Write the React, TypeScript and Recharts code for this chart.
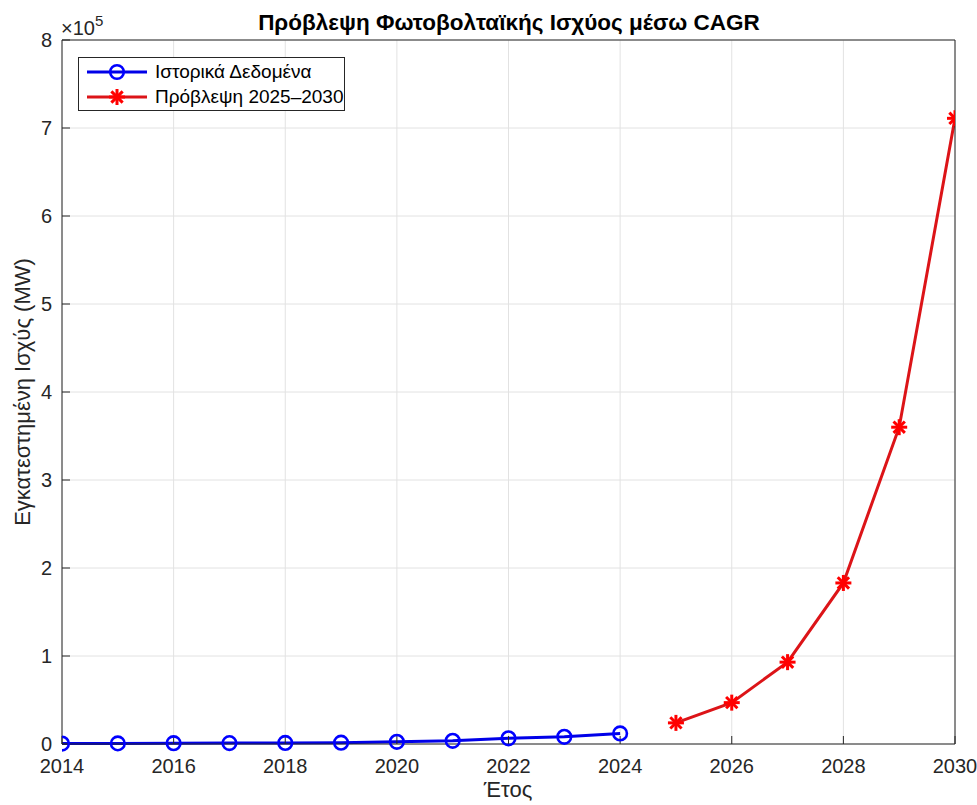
import React from 'react';
import { LineChart, Line, XAxis, YAxis, CartesianGrid, Legend } from 'recharts';

if (typeof document !== 'undefined') {
  document.body.style.margin = '0';
}

const years = [2014, 2015, 2016, 2017, 2018, 2019, 2020, 2021, 2022, 2023, 2024, 2025, 2026, 2027, 2028, 2029, 2030];
const historicalYears = [2014, 2015, 2016, 2017, 2018, 2019, 2020, 2021, 2022, 2023, 2024];
const historicalMW = [500, 700, 900, 1000, 1200, 1500, 2500, 3600, 6500, 8200, 12000];
const forecastYears = [2025, 2026, 2027, 2028, 2029, 2030];
const forecastMW = [24000, 47000, 93000, 183000, 360000, 711000];
const xTicks = [2014, 2016, 2018, 2020, 2022, 2024, 2026, 2028, 2030];
const yTicks = [0, 100000, 200000, 300000, 400000, 500000, 600000, 700000, 800000];

const titleText = 'Πρόβλεψη Φωτοβολταϊκής Ισχύος μέσω CAGR';
const xLabel = 'Έτος';
const yLabel = 'Εγκατεστημένη Ισχύς (MW)';
const histName = 'Ιστορικά Δεδομένα';
const fcName = 'Πρόβλεψη 2025–2030';

const data = years.map((year) => {
  const hi = historicalYears.indexOf(year);
  const fi = forecastYears.indexOf(year);
  return {
    year,
    hist: hi >= 0 ? historicalMW[hi] : null,
    fc: fi >= 0 ? forecastMW[fi] : null,
  };
});

const FONT = '"Liberation Sans", Arial, Helvetica, sans-serif';
const AXIS = '#262626';
const BLUE = '#0000ff';
const BLUE_LINE = '#0000e8';
const RED_LINE = '#dc1418';
const RED = '#ff0000';

const PAGE_W = 977;
const PAGE_H = 805;
const W = 969;
const H = 797;

const CircleDot = (props: any) => {
  const { cx, cy, value, index } = props;
  if (cx == null || cy == null || value == null) return <g key={`c-${index}`} />;
  return <circle key={`c-${index}`} cx={cx} cy={cy} r={6.8} fill="none" stroke={BLUE} strokeWidth={2.6} />;
};

const Asterisk = ({ cx, cy, r, stroke, sw }: any) => {
  const arms = [0, 45, 90, 135].map((a) => {
    const rad = (a * Math.PI) / 180;
    const dx = Math.cos(rad) * r;
    const dy = Math.sin(rad) * r;
    return <line key={a} x1={cx - dx} y1={cy - dy} x2={cx + dx} y2={cy + dy} stroke={stroke} strokeWidth={sw} />;
  });
  return <g>{arms}</g>;
};

const StarDot = (props: any) => {
  const { cx, cy, value, index } = props;
  if (cx == null || cy == null || value == null) return <g key={`s-${index}`} />;
  return (
    <g key={`s-${index}`}>
      <Asterisk cx={cx} cy={cy} r={8} stroke={RED} sw={3} />
    </g>
  );
};

const XTick = (props: any) => {
  const { x, y, payload } = props;
  return (
    <text x={x} y={y} dy="0.71em" textAnchor="middle" fontFamily={FONT} fontSize={20} fill={AXIS}>
      {payload.value}
    </text>
  );
};

const YTick = (props: any) => {
  const { x, y, payload } = props;
  return (
    <text x={x} y={y} dy="0.355em" textAnchor="end" fontFamily={FONT} fontSize={20} fill={AXIS}>
      {payload.value / 100000}
    </text>
  );
};

const renderLegend = () => (
  <div
    style={{
      border: `1px solid ${AXIS}`,
      background: '#fff',
      width: 265,
      height: 52,
      boxSizing: 'content-box',
      fontFamily: FONT,
      fontSize: 19,
      color: '#000',
      position: 'relative',
      whiteSpace: 'nowrap',
    }}
  >
    <div style={{ position: 'absolute', left: 7, top: 2, display: 'flex', alignItems: 'center', height: 24 }}>
      <svg width={62} height={24} style={{ display: 'block' }}>
        <line x1={1} y1={12} x2={61} y2={12} stroke={BLUE_LINE} strokeWidth={3} />
        <circle cx={31} cy={12} r={6.8} fill="none" stroke={BLUE} strokeWidth={2.6} />
      </svg>
      <span style={{ marginLeft: 7 }}>{histName}</span>
    </div>
    <div style={{ position: 'absolute', left: 7, top: 27, display: 'flex', alignItems: 'center', height: 24 }}>
      <svg width={62} height={24} style={{ display: 'block' }}>
        <line x1={1} y1={12} x2={61} y2={12} stroke={RED_LINE} strokeWidth={3} />
        <Asterisk cx={31} cy={12} r={8} stroke={RED} sw={3} />
      </svg>
      <span style={{ marginLeft: 7 }}>{fcName}</span>
    </div>
  </div>
);

export default function App() {
  return (
    <div style={{ position: 'relative', width: PAGE_W, height: PAGE_H, background: '#fff', overflow: 'hidden' }}>
      <div style={{ position: 'absolute', left: 8, top: 8, width: W, height: H }}>
        <LineChart
          width={W}
          height={H}
          data={data}
          margin={{ top: 22, right: 12, bottom: 21, left: 14 }}
          style={{ background: '#fff', overflow: 'visible' }}
        >
          <CartesianGrid stroke="#e2e2e2" strokeWidth={1} />
          <XAxis
            dataKey="year"
            type="number"
            domain={[2014, 2030]}
            ticks={xTicks}
            interval={0}
            allowDataOverflow
            height={40}
            stroke={AXIS}
            tickSize={-8}
            tickMargin={23}
            tick={<XTick />}
          />
          <XAxis
            xAxisId="top"
            dataKey="year"
            type="number"
            orientation="top"
            domain={[2014, 2030]}
            ticks={xTicks}
            interval={0}
            height={10}
            stroke={AXIS}
            tickSize={-8}
            tick={false}
          />
          <YAxis
            type="number"
            domain={[0, 800000]}
            ticks={yTicks}
            interval={0}
            width={40}
            stroke={AXIS}
            tickSize={-8}
            tickMargin={18}
            tick={<YTick />}
          />
          <YAxis
            yAxisId="right"
            orientation="right"
            type="number"
            domain={[0, 800000]}
            ticks={yTicks}
            interval={0}
            width={10}
            stroke={AXIS}
            tickSize={-8}
            tick={false}
          />
          <Legend
            verticalAlign="middle"
            align="center"
            layout="horizontal"
            wrapperStyle={{ position: 'absolute', left: 70, top: 49, width: 'auto', height: 'auto' }}
            content={renderLegend}
          />
          <Line
            dataKey="hist"
            name={histName}
            stroke={BLUE_LINE}
            strokeWidth={3}
            dot={CircleDot}
            activeDot={false}
            isAnimationActive={false}
            connectNulls={false}
          />
          <Line
            dataKey="fc"
            name={fcName}
            stroke={RED_LINE}
            strokeWidth={3}
            dot={StarDot}
            activeDot={false}
            isAnimationActive={false}
            connectNulls={false}
          />
        </LineChart>
        <svg
          width={W}
          height={H}
          style={{ position: 'absolute', left: 0, top: 0, pointerEvents: 'none', overflow: 'visible' }}
        >
          <text x={501} y={22} textAnchor="middle" fontFamily={FONT} fontSize={22.5} fontWeight="bold" fill="#000">
            {titleText}
          </text>
          <text x={53} y={27} fontFamily={FONT} fontSize={20} fill={AXIS}>
            ×10
            <tspan fontSize={15} dy={-9}>5</tspan>
          </text>
          <text
            x={0}
            y={0}
            transform={`translate(22, 384) rotate(-90)`}
            textAnchor="middle"
            fontFamily={FONT}
            fontSize={22}
            fill={AXIS}
          >
            {yLabel}
          </text>
          <text x={500} y={789} textAnchor="middle" fontFamily={FONT} fontSize={22} fill={AXIS}>
            {xLabel}
          </text>
        </svg>
      </div>
    </div>
  );
}
